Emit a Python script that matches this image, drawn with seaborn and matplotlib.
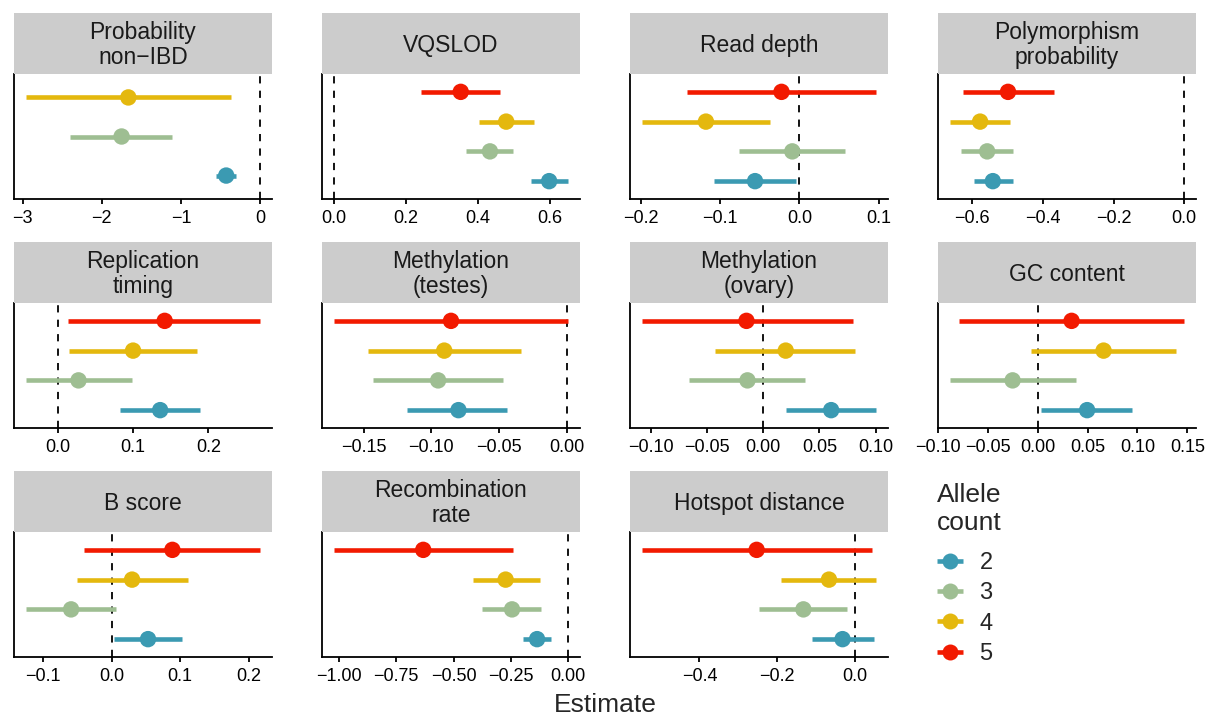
import numpy as np
import pandas as pd
import matplotlib
matplotlib.use("Agg")
import matplotlib.pyplot as plt
import seaborn as sns
from matplotlib.lines import Line2D
from matplotlib.ticker import FixedLocator, FuncFormatter

# ---------------- data ----------------
panel_titles = ["Probability\nnon\u2212IBD", "VQSLOD", "Read depth", "Polymorphism\nprobability",
                "Replication\ntiming", "Methylation\n(testes)", "Methylation\n(ovary)", "GC content",
                "B score", "Recombination\nrate", "Hotspot distance"]
allele_levels = [2, 3, 4, 5]

est_2 = [-0.43, 0.597, -0.056, -0.542, 0.136, -0.080, 0.0604, 0.0495, 0.053, -0.136, -0.031]
lo_2 = [-0.557, 0.547, -0.1075, -0.596, 0.083, -0.118, 0.020, 0.0035, 0.003, -0.199, -0.111]
hi_2 = [-0.305, 0.650, -0.004, -0.486, 0.1886, -0.0445, 0.1005, 0.0946, 0.103, -0.075, 0.051]

est_3 = [-1.75, 0.433, -0.009, -0.558, 0.0275, -0.095, -0.014, -0.0253, -0.0594, -0.245, -0.132]
lo_3 = [-2.40, 0.367, -0.076, -0.632, -0.0426, -0.143, -0.066, -0.0884, -0.1257, -0.375, -0.246]
hi_3 = [-1.11, 0.496, 0.058, -0.486, 0.099, -0.047, 0.0373, 0.038, 0.0057, -0.119, -0.019]

est_4 = [-1.665, 0.478, -0.118, -0.578, 0.100, -0.0905, 0.020, 0.066, 0.0297, -0.273, -0.066]
lo_4 = [-2.96, 0.403, -0.199, -0.664, 0.0145, -0.147, -0.043, -0.007, -0.0514, -0.417, -0.190]
hi_4 = [-0.365, 0.554, -0.037, -0.494, 0.185, -0.0335, 0.082, 0.139, 0.111, -0.123, 0.056]

est_5 = [np.nan, 0.352, -0.0226, -0.499, 0.142, -0.0855, -0.0149, 0.0339, 0.0886, -0.632, -0.2526]
lo_5 = [np.nan, 0.242, -0.142, -0.627, 0.0135, -0.172, -0.108, -0.079, -0.041, -1.022, -0.549]
hi_5 = [np.nan, 0.462, 0.097, -0.370, 0.269, 0.001, 0.080, 0.147, 0.217, -0.242, 0.045]

panel_ticks = [[-3, -2, -1, 0], [0, 0.2, 0.4, 0.6], [-0.2, -0.1, 0, 0.1], [-0.6, -0.4, -0.2, 0],
               [0, 0.1, 0.2], [-0.15, -0.10, -0.05, 0], [-0.1, -0.05, 0, 0.05, 0.1],
               [-0.1, -0.05, 0, 0.05, 0.1, 0.15], [-0.1, 0, 0.1, 0.2],
               [-1, -0.75, -0.5, -0.25, 0], [-0.4, -0.2, 0]]
tick_decimals = [0, 1, 1, 1, 1, 2, 2, 2, 1, 2, 1]

colors = ["#3B9AB2", "#9EBE92", "#E4B80E", "#F21A00"]

# ---------------- table ----------------
rows = []
for a, e, l, h in [(2, est_2, lo_2, hi_2), (3, est_3, lo_3, hi_3),
                   (4, est_4, lo_4, hi_4), (5, est_5, lo_5, hi_5)]:
    for i in range(len(panel_titles)):
        rows.append(dict(panel=i, allele=a, est=e[i], lo=l[i], hi=h[i]))
df = pd.DataFrame(rows).dropna()
pal = dict(zip(allele_levels, colors))

# ---------------- style ----------------
sns.set_style("ticks")
plt.rcParams["font.family"] = ["Liberation Sans", "DejaVu Sans"]
plt.rcParams["lines.solid_capstyle"] = "butt"
plt.rcParams["axes.unicode_minus"] = True

W, H = 1205, 717
fig = plt.figure(figsize=(W / 100, H / 100), dpi=100)

col_w = 258
col_step = 308
row_step = 229

for i, title in enumerate(panel_titles):
    r, c = divmod(i, 4)
    left = 14 + c * col_step
    ax_top = 74 + r * row_step
    ax_bot = 199 + r * row_step
    strip_top = 13 + r * row_step

    ax = fig.add_axes([left / W, 1 - ax_bot / H, col_w / W, (ax_bot - ax_top) / H])
    sax = fig.add_axes([left / W, 1 - ax_top / H, col_w / W, (ax_top - strip_top) / H])
    sax.set_facecolor("#CCCCCC")
    sax.set_xticks([]); sax.set_yticks([])
    for s in sax.spines.values():
        s.set_visible(False)
    sax.text(0.5, 0.47, title, ha="center", va="center", fontsize=16.5, linespacing=1.1,
             transform=sax.transAxes, color="#1A1A1A")

    sub = df[df.panel == i].copy()
    levels = sorted(sub.allele.unique())
    posmap = {a: k + 1 for k, a in enumerate(levels)}
    sub["pos"] = sub.allele.map(posmap)

    seg = pd.concat([sub.assign(x=sub.lo), sub.assign(x=sub.hi)])
    ax.axvline(0, color="black", lw=1.3, ls=(0, (4, 4)), zorder=1)
    sns.lineplot(data=seg, x="x", y="pos", hue="allele", units="allele", estimator=None,
                 palette=pal, lw=3.3, legend=False, ax=ax, zorder=2)
    sns.scatterplot(data=sub, x="est", y="pos", hue="allele", palette=pal, s=140,
                    linewidth=0, legend=False, ax=ax, zorder=3)

    lo_all = min(sub.lo.min(), 0)
    hi_all = max(sub.hi.max(), 0)
    pad = 0.05 * (hi_all - lo_all)
    ax.set_xlim(lo_all - pad, hi_all + pad)
    ax.set_ylim(0.4, len(levels) + 0.6)
    ax.set_yticks([])
    ax.set_xlabel(""); ax.set_ylabel("")
    d = tick_decimals[i]
    ax.xaxis.set_major_locator(FixedLocator(panel_ticks[i]))
    ax.xaxis.set_major_formatter(FuncFormatter(
        lambda v, p, d=d: (f"{v:.{d}f}" if abs(v) > 1e-12 else f"{0:.{d}f}").replace("-", "\u2212")))
    ax.tick_params(axis="x", length=3.5, width=1.3, labelsize=13, pad=4.5, colors="black")
    for s in ["top", "right"]:
        ax.spines[s].set_visible(False)
    for s in ["left", "bottom"]:
        ax.spines[s].set_linewidth(1.3)
        ax.spines[s].set_color("black")
    ax.set_facecolor("white")

fig.text(605 / W, 1 - 705 / H, "Estimate", ha="center", va="center", fontsize=19)

handles = [Line2D([0], [0], color=pal[a], lw=3.3, marker="o", markersize=11.5, markeredgewidth=0)
           for a in allele_levels]
leg = fig.legend(handles, [str(a) for a in allele_levels], title="Allele\ncount",
                 loc="upper left", bbox_to_anchor=(924 / W, 1 - 470 / H), frameon=False,
                 fontsize=17, title_fontsize=19, handlelength=1.1, handletextpad=0.7,
                 labelspacing=0.35, borderpad=0.55, borderaxespad=0, alignment="left")
leg._legend_box.sep = 12.5

fig.savefig("out.png", dpi=100)
